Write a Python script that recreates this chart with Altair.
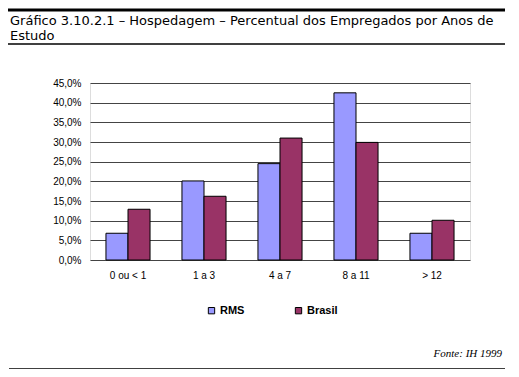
import altair as alt
import pandas as pd

categories = ["0 ou < 1", "1 a 3", "4 a 7", "8 a 11", "> 12"]
series = ["RMS", "Brasil"]
rms = [0.068, 0.201, 0.245, 0.425, 0.068]
brasil = [0.129, 0.162, 0.310, 0.299, 0.101]
colors = ["#9999FF", "#993366"]
y_ticks = [0.0, 0.05, 0.10, 0.15, 0.20, 0.25, 0.30, 0.35, 0.40, 0.45]

rows = []
for c, r, b in zip(categories, rms, brasil):
    rows.append({"cat": c, "serie": "RMS", "val": r})
    rows.append({"cat": c, "serie": "Brasil", "val": b})
df = pd.DataFrame(rows)

W, H = 380, 177
PL, PT = 82, 75

bars = alt.Chart(df).mark_bar(stroke="black", strokeWidth=1).encode(
    x=alt.X("cat:N", sort=categories, title=None,
            scale=alt.Scale(paddingInner=0.42, paddingOuter=0.21),
            axis=alt.Axis(labelAngle=0, labelFont="Liberation Sans", labelFontSize=10,
                          labelColor="black", labelPadding=10, ticks=False, domain=False)),
    xOffset=alt.XOffset("serie:N", sort=series),
    y=alt.Y("val:Q", title=None,
            scale=alt.Scale(domain=[0, 0.45], nice=False),
            axis=alt.Axis(values=y_ticks, labelExpr="replace(format(datum.value, '.1%'), '.', ',')",
                          labelFont="Liberation Sans", labelFontSize=10, labelColor="black",
                          labelPadding=9, ticks=False, domain=False,
                          grid=True, gridColor="#444", gridWidth=1, gridOpacity=1)),
    color=alt.Color("serie:N", sort=series,
                    scale=alt.Scale(domain=series, range=colors),
                    legend=alt.Legend(title=None, orient="none", direction="horizontal",
                                      legendX=116, legendY=222, symbolType="square",
                                      symbolSize=40, symbolStrokeColor="black",
                                      symbolStrokeWidth=1, symbolOpacity=1,
                                      labelFont="Liberation Sans", labelFontSize=11,
                                      labelFontWeight="bold", labelColor="black",
                                      labelOffset=3, columnPadding=48)),
)

deco_df = pd.DataFrame({"k": [0]})
base = alt.Chart(deco_df)

top_line = base.mark_rule(color="black", strokeWidth=3).encode(
    x=alt.value(-PL), x2=alt.value(-PL + 497), y=alt.value(10 - 8 - PT))
mid_line = base.mark_rule(color="black", strokeWidth=1.5).encode(
    x=alt.value(-PL), x2=alt.value(-PL + 497), y=alt.value(44 - 8 - PT))
bot_line = base.mark_rule(color="black", strokeWidth=1.5).encode(
    x=alt.value(-PL + 1), x2=alt.value(-PL + 497), y=alt.value(369 - 8 - PT))

title1 = base.mark_text(align="left", baseline="alphabetic", font="DejaVu Sans",
                        fontSize=13, color="black").encode(
    x=alt.value(10 - 8 - PL), y=alt.value(25 - 8 - PT),
    text=alt.value("Gráfico 3.10.2.1 – Hospedagem – Percentual dos Empregados por Anos de"))
title2 = base.mark_text(align="left", baseline="alphabetic", font="DejaVu Sans",
                        fontSize=13, color="black").encode(
    x=alt.value(10 - 8 - PL), y=alt.value(40 - 8 - PT), text=alt.value("Estudo"))
fonte = base.mark_text(align="right", baseline="middle", font="Liberation Serif",
                       fontSize=11, fontStyle="italic", color="black").encode(
    x=alt.value(502 - 8 - PL), y=alt.value(354 - 8 - PT), text=alt.value("Fonte: IH 1999"))

chart = alt.layer(bars, top_line, mid_line, bot_line, title1, title2, fonte).properties(
    width=W, height=H,
    autosize=alt.AutoSizeParams(type="none"),
    padding={"left": PL, "top": PT, "right": 503 - PL - W, "bottom": 361 - PT - H},
).configure_view(stroke=None).configure(background="white")

chart.save("out.html", embed_options={"renderer": "svg", "actions": False})
